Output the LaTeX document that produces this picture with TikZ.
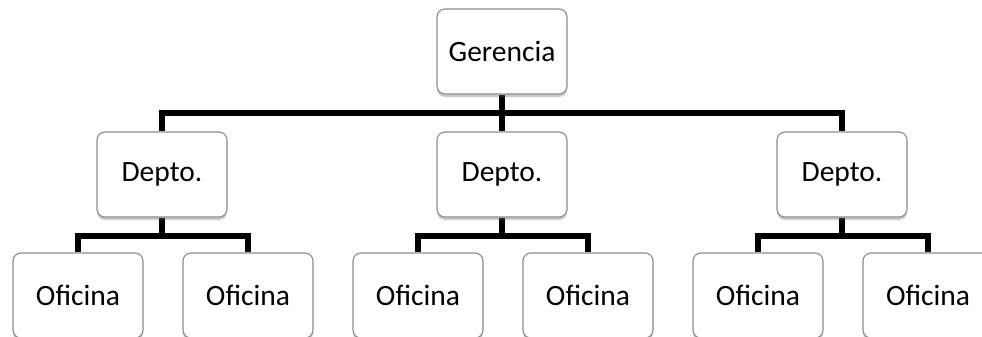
\documentclass[tikz,border=0pt]{standalone}
\usepackage{fontspec}
\setmainfont{Carlito}
\usetikzlibrary{shadows,backgrounds}
\begin{document}
\begin{tikzpicture}[x=1pt,y=1pt,
  box/.style={draw=black!45, line width=1.1pt, fill=white, rounded corners=8pt,
    minimum width=130pt, minimum height=85pt, inner sep=0pt,
    font=\fontsize{29.5}{35}\selectfont,
    drop shadow={shadow xshift=0pt, shadow yshift=-3pt, opacity=0.35, fill=black!60}},
  conn/.style={line width=6pt, line join=miter, draw=black}]
\useasboundingbox (0,0) rectangle (982,-337);
\clip (0,0) rectangle (982,-337);
\node[box] (ger) at (502,-51.5) {Gerencia};
\node[box] (d1) at (162,-174.5) {Depto.};
\node[box] (d2) at (502,-174.5) {Depto.};
\node[box] (d3) at (842,-174.5) {Depto.};
\node[box] (o1) at (78,-295.5) {Oficina};
\node[box] (o2) at (248,-295.5) {Oficina};
\node[box] (o3) at (418,-295.5) {Oficina};
\node[box] (o4) at (588,-295.5) {Oficina};
\node[box] (o5) at (758,-295.5) {Oficina};
\node[box] (o6) at (928,-295.5) {Oficina};
\coordinate (bar1) at (0,-113);
\coordinate (bar2) at (0,-236);
\begin{scope}[on background layer]
\draw[conn] (ger.south) -- (d2.north);
\draw[conn] (d1.north) |- (d3.north |- bar1) -- (d3.north);
\draw[conn] (d1.south) -- (d1.south |- bar2);
\draw[conn] (o1.north) |- (o2.north |- bar2) -- (o2.north);
\draw[conn] (d2.south) -- (d2.south |- bar2);
\draw[conn] (o3.north) |- (o4.north |- bar2) -- (o4.north);
\draw[conn] (d3.south) -- (d3.south |- bar2);
\draw[conn] (o5.north) |- (o6.north |- bar2) -- (o6.north);
\end{scope}
\end{tikzpicture}
\end{document}
